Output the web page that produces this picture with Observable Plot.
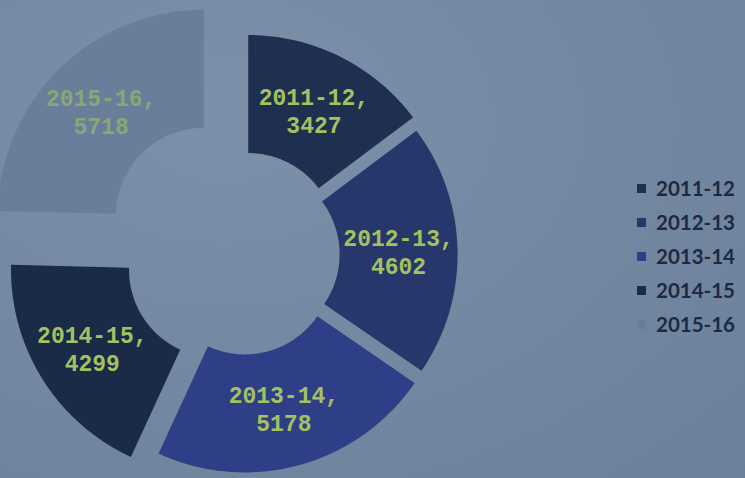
<!DOCTYPE html>
<html><head><meta charset="utf-8">
<script src="https://cdn.jsdelivr.net/npm/d3@7"></script>
<script src="https://cdn.jsdelivr.net/npm/@observablehq/plot@0.6"></script>
<style>
html,body{margin:0;padding:0;width:745px;height:478px;overflow:hidden;}
body{position:relative;background:radial-gradient(ellipse at 30% 25%, #7c90aa 0%, #7387a1 55%, #6b809a 100%);}
#chart{position:absolute;left:0;top:0;}
#legend{position:absolute;left:637px;top:171px;}
.lg-swatch{height:34px !important;padding-bottom:0 !important;}
.lg-swatch > svg{margin-right:10px !important;}
</style></head><body>
<div id="chart"></div><div id="legend"></div>
<script>
// data
const years = ["2011-12","2012-13","2013-14","2014-15","2015-16"];
const values = [3427, 4602, 5178, 4299, 5718];
const colors = ["#1f2f4f","#28376b","#2f3f87","#192b46","#697e9a"];

// style / geometry
const W = 745, H = 478, CX = 241, CY = 254, R = 206, HOLE = 88 / 206;
const explode = [0.073, 0.049, 0.06, 0.14, 0.262]; // fraction of outer radius

const TAU = 2 * Math.PI;
const total = d3.sum(values);
let acc = 0;
const slices = years.map((year, i) => {
  const a0 = acc / total * TAU; acc += values[i];
  const a1 = acc / total * TAU;
  const mid = (a0 + a1) / 2;
  const ex = explode[i] * Math.sin(mid), ey = explode[i] * Math.cos(mid);
  const lr = (1 + HOLE) / 2;
  return {year, value: values[i], a0, a1, ex, ey, lx: ex + lr * Math.sin(mid), ly: ey + lr * Math.cos(mid)};
});
const pts = slices.flatMap(s => {
  const n = 72, out = [];
  for (let k = 0; k <= n; k++) { const a = s.a0 + (s.a1 - s.a0) * k / n; out.push({year: s.year, x: s.ex + Math.sin(a), y: s.ey + Math.cos(a)}); }
  for (let k = n; k >= 0; k--) { const a = s.a0 + (s.a1 - s.a0) * k / n; out.push({year: s.year, x: s.ex + HOLE * Math.sin(a), y: s.ey + HOLE * Math.cos(a)}); }
  return out;
});

const chart = Plot.plot({
  width: W, height: H, margin: 0,
  x: {domain: [-1, 1], range: [CX - R, CX + R], axis: null},
  y: {domain: [1, -1], range: [CY - R, CY + R], axis: null},
  color: {domain: years, range: colors},
  style: {background: "transparent"},
  marks: [
    Plot.line(pts, {x: "x", y: "y", z: "year", fill: "year", stroke: "none", curve: "linear-closed"}),
    Plot.text(slices, {
      x: "lx", y: "ly", text: d => `${d.year},\n${d.value}`,
      fill: "#a3c160", fillOpacity: d => d.year === "2015-16" ? 0.6 : 1,
      fontFamily: "Liberation Mono", fontWeight: "bold", fontSize: 23, lineHeight: 1.22
    })
  ]
});
document.getElementById("chart").append(chart);

const legend = Plot.legend({
  color: {domain: years, range: colors},
  columns: 1, swatchSize: 9, className: "lg",
  style: {fontFamily: "Lato", fontSize: "20.5px", fontWeight: "bold", color: "#1d2942", background: "transparent"}
});
document.getElementById("legend").append(legend);
</script>
</body></html>
